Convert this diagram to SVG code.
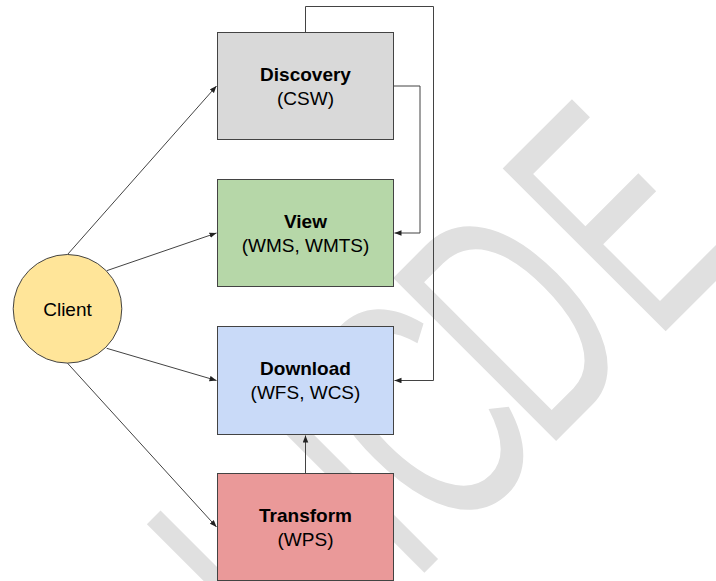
<svg xmlns="http://www.w3.org/2000/svg" width="716" height="581" viewBox="0 0 716 581">
<defs>
<style>
.box{stroke:#434343;stroke-width:1}
.t{font-family:"Liberation Sans",Arial,sans-serif;font-size:19px;fill:#000;text-anchor:middle}
.b{font-weight:bold}
.wm{font-family:"Liberation Sans",Arial,sans-serif;font-size:335px;fill:#e0e0e0}
.c{fill:none;stroke:#434343;stroke-width:1}
</style>
<marker id="ah" markerUnits="userSpaceOnUse" markerWidth="8" markerHeight="6" refX="7" refY="2.75" orient="auto">
<path d="M0,0 L7,2.75 L0,5.5 z" fill="#222"/>
</marker>
</defs>
<rect width="716" height="581" fill="#fff"/>
<g id="watermark" class="wm" transform="rotate(-45)">
<text transform="translate(-286,705) scale(0.62,1)">I</text>
<text transform="translate(-124,705) scale(0.62,1)">I</text>
<text transform="translate(-70,705) scale(0.62,1)">C</text>
<text transform="translate(65,705) scale(0.6,1)">D</text>
<text transform="translate(221,705) scale(0.56,1)">E</text>
</g>
<g id="connectors">
<path class="c" d="M67.5,254.5 L216.5,86" marker-end="url(#ah)"/>
<path class="c" d="M106.7,270.7 L216.5,233" marker-end="url(#ah)"/>
<path class="c" d="M106.7,348.3 L216.5,380.5" marker-end="url(#ah)"/>
<path class="c" d="M67.5,363.2 L216.5,527" marker-end="url(#ah)"/>
<path class="c" d="M393.5,86 H420 V233 H394.5" marker-end="url(#ah)"/>
<path class="c" d="M305.5,32.5 V6.5 H433.5 V380.5 H394.5" marker-end="url(#ah)"/>
<path class="c" d="M305.5,473.5 V435.5" marker-end="url(#ah)"/>
</g>
<g id="client">
<circle class="box" cx="67.5" cy="308.8" r="54.3" fill="#ffe599"/>
<text class="t" x="67.5" y="316">Client</text>
</g>
<g id="discovery">
<rect class="box" x="217.5" y="32.5" width="176" height="107" fill="#d9d9d9"/>
<text class="t b" x="305.5" y="81">Discovery</text>
<text class="t" x="305.5" y="105">(CSW)</text>
</g>
<g id="view">
<rect class="box" x="217.5" y="179.5" width="176" height="107" fill="#b6d7a8"/>
<text class="t b" x="305.5" y="228">View</text>
<text class="t" x="305.5" y="252">(WMS, WMTS)</text>
</g>
<g id="download">
<rect class="box" x="217.5" y="326.5" width="176" height="108" fill="#c9daf8"/>
<text class="t b" x="305.5" y="375.3">Download</text>
<text class="t" x="305.5" y="399.3">(WFS, WCS)</text>
</g>
<g id="transform">
<rect class="box" x="217.5" y="473.5" width="176" height="107" fill="#ea9999"/>
<text class="t b" x="305.5" y="522">Transform</text>
<text class="t" x="305.5" y="546">(WPS)</text>
</g>
</svg>
